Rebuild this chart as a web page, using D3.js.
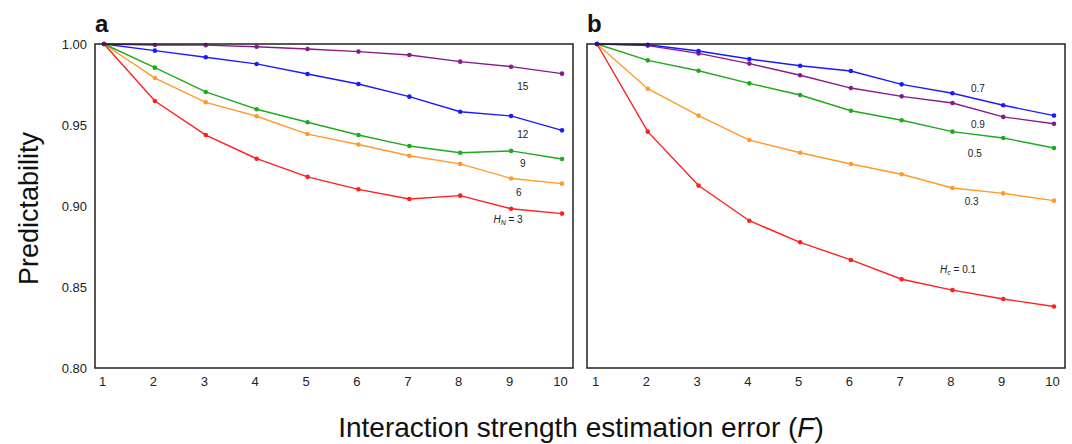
<!DOCTYPE html>
<html>
<head>
<meta charset="utf-8">
<script src="https://cdn.jsdelivr.net/npm/d3@7"></script>
<style>
  html, body { margin: 0; padding: 0; background: #fff; }
  svg { display: block; font-family: "Liberation Sans", Arial, sans-serif; }
</style>
</head>
<body>
<svg id="chart" width="1072" height="444"></svg>
<script>
// ---------- data ----------
const errorLevels = [1, 2, 3, 4, 5, 6, 7, 8, 9, 10];
const yTicks = [0.80, 0.85, 0.90, 0.95, 1.00];

// Panel a: H_N series
const aH3  = [1.000, 0.9648, 0.9438, 0.9292, 0.9180, 0.9103, 0.9043, 0.9064, 0.8983, 0.8953];
const aH6  = [1.000, 0.9790, 0.9640, 0.9554, 0.9444, 0.9380, 0.9310, 0.9260, 0.9170, 0.9138];
const aH9  = [1.000, 0.9854, 0.9704, 0.9597, 0.9517, 0.9438, 0.9370, 0.9329, 0.9340, 0.9290];
const aH12 = [1.000, 0.9959, 0.9918, 0.9877, 0.9815, 0.9753, 0.9675, 0.9582, 0.9556, 0.9467];
const aH15 = [1.000, 0.9994, 0.9993, 0.9983, 0.9969, 0.9953, 0.9932, 0.9891, 0.9860, 0.9817];

// Panel b: H_C series
const bH01 = [1.000, 0.9459, 0.9126, 0.8909, 0.8776, 0.8667, 0.8548, 0.8481, 0.8426, 0.8380];
const bH03 = [1.000, 0.9724, 0.9558, 0.9407, 0.9329, 0.9259, 0.9196, 0.9111, 0.9078, 0.9033];
const bH05 = [1.000, 0.9899, 0.9835, 0.9757, 0.9685, 0.9588, 0.9529, 0.9459, 0.9420, 0.9358];
const bH07 = [1.000, 0.9995, 0.9957, 0.9907, 0.9866, 0.9833, 0.9751, 0.9696, 0.9622, 0.9558];
const bH09 = [1.000, 0.9990, 0.9942, 0.9879, 0.9807, 0.9728, 0.9677, 0.9636, 0.9550, 0.9508];

const aLabels = ["3", "6", "9", "12", "15"];
const bLabels = ["0.1", "0.3", "0.5", "0.7", "0.9"];

// ---------- styles / layout ----------
const colors = {red: "#ff1f1f", orange: "#ff9a2a", green: "#1eaa1e", blue: "#1a1aff", purple: "#8a1a8a"};

const panels = [
  {
    letter: "a", frame: [95, 573], xr: [104, 562], sub: "N",
    series: [
      {vals: aH3,  color: colors.red,    label: aLabels[0], lx: 8.94, ly: 0.8914, prefix: true},
      {vals: aH6,  color: colors.orange, label: aLabels[1], lx: 9.15, ly: 0.9086},
      {vals: aH9,  color: colors.green,  label: aLabels[2], lx: 9.23, ly: 0.9265},
      {vals: aH12, color: colors.blue,   label: aLabels[3], lx: 9.23, ly: 0.9444},
      {vals: aH15, color: colors.purple, label: aLabels[4], lx: 9.23, ly: 0.9735}
    ]
  },
  {
    letter: "b", frame: [587, 1065], xr: [597, 1054], sub: "c",
    series: [
      {vals: bH01, color: colors.red,    label: bLabels[0], lx: 8.11, ly: 0.8611, prefix: true},
      {vals: bH03, color: colors.orange, label: bLabels[1], lx: 8.38, ly: 0.9025},
      {vals: bH05, color: colors.green,  label: bLabels[2], lx: 8.44, ly: 0.9327},
      {vals: bH09, color: colors.purple, label: bLabels[4], lx: 8.50, ly: 0.9506},
      {vals: bH07, color: colors.blue,   label: bLabels[3], lx: 8.50, ly: 0.9728}
    ]
  }
];

const svg = d3.select("#chart");
const y = d3.scaleLinear().domain([0.80, 1.00]).range([368, 44]);

panels.forEach((p, pi) => {
  const x = d3.scaleLinear().domain([1, 10]).range(p.xr);
  const g = svg.append("g");

  // series lines & points
  const line = d3.line().x((d, i) => x(errorLevels[i])).y(d => y(d));
  p.series.forEach(s => {
    g.append("path").attr("d", line(s.vals))
      .attr("fill", "none").attr("stroke", s.color).attr("stroke-width", 1.4);
    g.selectAll(null).data(s.vals).enter().append("circle")
      .attr("cx", (d, i) => x(errorLevels[i])).attr("cy", d => y(d))
      .attr("r", 2.3).attr("fill", s.color);
  });

  // frame
  g.append("rect").attr("x", p.frame[0]).attr("y", 44)
    .attr("width", p.frame[1] - p.frame[0]).attr("height", 324)
    .attr("fill", "none").attr("stroke", "#222").attr("stroke-width", 1.5);

  // x axis tick labels
  const xAxis = d3.axisBottom(x).tickValues(errorLevels).tickSize(0).tickPadding(0).tickFormat(d3.format("d"));
  const xa = g.append("g").attr("transform", "translate(0,377)").call(xAxis);
  xa.select(".domain").remove();
  xa.selectAll("text").attr("font-size", 13).attr("fill", "#222")
    .attr("font-family", "Liberation Sans, Arial, sans-serif").attr("dx", -2);

  // y axis tick labels (only left panel)
  if (pi === 0) {
    const yAxis = d3.axisLeft(y).tickValues(yTicks).tickSize(0).tickPadding(0).tickFormat(d3.format(".2f"));
    const ya = g.append("g").attr("transform", "translate(87,0)").call(yAxis);
    ya.select(".domain").remove();
    ya.selectAll("text").attr("font-size", 13).attr("fill", "#222")
      .attr("font-family", "Liberation Sans, Arial, sans-serif");
  }

  // panel letter
  g.append("text").attr("x", p.frame[0]).attr("y", 32)
    .attr("font-size", 24).attr("font-weight", "bold").attr("fill", "#111").text(p.letter);

  // series labels
  p.series.forEach(s => {
    const t = g.append("text").attr("x", x(s.lx)).attr("y", y(s.ly)).attr("dy", "0.35em")
      .attr("text-anchor", "middle").attr("font-size", 10).attr("fill", "#222");
    if (s.prefix) {
      t.append("tspan").attr("font-style", "italic").text("H");
      t.append("tspan").attr("font-style", "italic").attr("font-size", 7).attr("dy", 2).text(p.sub);
      t.append("tspan").attr("dy", -2).text(" = " + s.label);
    } else {
      t.text(s.label);
    }
  });
});

// axis titles
svg.append("text").attr("transform", "translate(38,208.5) rotate(-90)")
  .attr("text-anchor", "middle").attr("font-size", 27).attr("fill", "#111").text("Predictability");

const xt = svg.append("text").attr("x", 581).attr("y", 437)
  .attr("text-anchor", "middle").attr("font-size", 28).attr("fill", "#111");
xt.append("tspan").text("Interaction strength estimation error (");
xt.append("tspan").attr("font-style", "italic").text("F");
xt.append("tspan").text(")");
</script>
</body>
</html>
